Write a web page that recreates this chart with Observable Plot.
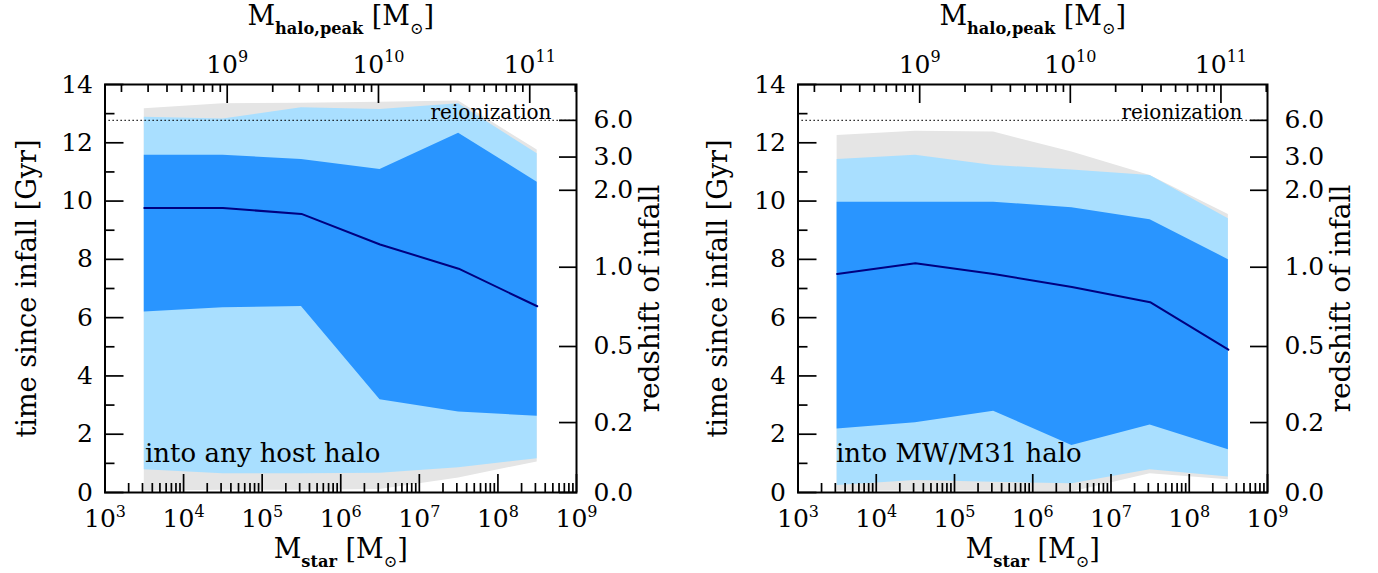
<!DOCTYPE html>
<html><head><meta charset="utf-8">
<script src="https://cdn.jsdelivr.net/npm/d3@7"></script>
<script src="https://cdn.jsdelivr.net/npm/@observablehq/plot@0.6"></script>
<style>
html,body{margin:0;padding:0;background:#fff;}
#wrap{display:flex;width:1378px;height:573px;overflow:hidden;}
#wrap svg{display:block;flex:none;}
</style></head><body><div id="wrap"></div>
<script>
// ---------- data ----------
const mstar = [10**3.5, 10**4.5, 10**5.5, 10**6.5, 10**7.5, 10**8.5];

// left panel: into any host halo (time since infall, Gyr)
const anyGrayLo  = [0.05, 0.08, 0.08, 0.10, 0.50, 1.05];
const anyGrayHi  = [13.17, 13.34, 13.36, 13.39, 13.43, 11.75];
const anyLightLo = [0.78, 0.64, 0.64, 0.66, 0.85, 1.16];
const anyLightHi = [12.88, 12.82, 13.20, 13.14, 13.34, 11.62];
const anyDarkLo  = [6.19, 6.34, 6.38, 3.18, 2.76, 2.62];
const anyDarkHi  = [11.57, 11.57, 11.43, 11.08, 12.33, 10.65];
const anyMedian  = [9.76, 9.76, 9.56, 8.51, 7.68, 6.39];

// right panel: into MW/M31 halo
const mwGrayLo  = [0.05, 0.05, 0.05, 0.02, 0.64, 0.44];
const mwGrayHi  = [12.25, 12.40, 12.37, 11.68, 10.88, 9.54];
const mwLightLo = [0.24, 0.41, 0.35, 0.30, 0.78, 0.53];
const mwLightHi = [11.43, 11.57, 11.22, 11.07, 10.88, 9.39];
const mwDarkLo  = [2.18, 2.39, 2.79, 1.61, 2.32, 1.47];
const mwDarkHi  = [9.96, 9.96, 9.96, 9.77, 9.36, 7.99];
const mwMedian  = [7.50, 7.87, 7.50, 7.05, 6.53, 4.90];

// redshift axis: labels and the lookback times (Gyr) they sit at
const zLabels = ["0.0", "0.2", "0.5", "1.0", "2.0", "3.0", "6.0"];
const zTimes  = [0, 2.40, 5.01, 7.73, 10.37, 11.51, 12.77];
const reionTime = 12.77;

// bottom axis decades and y ticks
const starDecades = [1e3, 1e4, 1e5, 1e6, 1e7, 1e8, 1e9];
const yMajor = [0, 2, 4, 6, 8, 10, 12, 14];
const yMinor = [1, 3, 5, 7, 9, 11, 13];

// top axis: peak halo mass, and its relation to stellar mass (log-linear)
const haloDecades = [1e9, 1e10, 1e11];
const haloRelation = {logStarAt1e9: 4.555, slope: 1.925};
const haloToStar = h => 10 ** (haloRelation.logStarAt1e9 + haloRelation.slope * (Math.log10(h) - 9));
const starToHalo = s => 10 ** (9 + (Math.log10(s) - haloRelation.logStarAt1e9) / haloRelation.slope);

// ---------- helpers ----------
const FONT = "DejaVu Serif";
const PLOT_H = 573, M_TOP = 84, M_BOTTOM = 81;
const FRAME_H = PLOT_H - M_TOP - M_BOTTOM;
const inRange = v => v >= 1e3 * 0.9999 && v <= 1e9 * 1.0001;
const starMinor = [];
for (let e = 3; e < 9; e++) for (let k = 2; k <= 9; k++) starMinor.push(k * 10 ** e);
const haloMinorPos = [];
for (let e = 8; e <= 11; e++) for (let k = 2; k <= 9; k++) {
  const p = haloToStar(k * 10 ** e);
  if (inRange(p)) haloMinorPos.push(p);
}
const haloMajorPos = haloDecades.map(h => haloToStar(h));
const expLabel = v => `10^{${Math.round(Math.log10(v))}}`;

function rich(svg) {
  const ns = "http://www.w3.org/2000/svg";
  svg.querySelectorAll("text").forEach(el => {
    if (el.querySelector("tspan")) return;
    const s = el.textContent;
    if (!/(\^|_\*?)\{/.test(s)) return;
    const fs = parseFloat(getComputedStyle(el).fontSize) || 25;
    const parts = s.split(/(\^\{[^}]*\}|_\*?\{[^}]*\})/).filter(p => p !== "");
    el.textContent = "";
    let shift = 0;
    for (const part of parts) {
      let m, target = 0, size = null, bold = false, content = part;
      if ((m = part.match(/^\^\{(.*)\}$/))) { target = -0.42 * fs; size = 0.64 * fs; content = m[1]; }
      else if ((m = part.match(/^_(\*?)\{(.*)\}$/))) { target = 0.32 * fs; size = 0.6 * fs; bold = !!m[1]; content = m[2]; }
      const t = document.createElementNS(ns, "tspan");
      t.setAttribute("dy", (target - shift).toFixed(2));
      shift = target;
      if (size) t.setAttribute("font-size", size.toFixed(2));
      if (bold) t.setAttribute("font-weight", "bold");
      t.textContent = content;
      el.appendChild(t);
    }
  });
}

function panel(o) {
  const rows = mstar.map((m, i) => ({
    m, gLo: o.grayLo[i], gHi: o.grayHi[i], lLo: o.lightLo[i], lHi: o.lightHi[i],
    dLo: o.darkLo[i], dHi: o.darkHi[i], med: o.median[i]
  }));
  const tickW = 1.7;
  return Plot.plot({
    width: 689, height: PLOT_H,
    marginTop: M_TOP, marginBottom: M_BOTTOM, marginLeft: o.marginLeft, marginRight: o.marginRight,
    x: {type: "log", domain: [1e3, 1e9], axis: null},
    y: {domain: [0, 14], axis: null},
    style: {fontFamily: FONT, fontSize: "25px", color: "#000", background: "#fff"},
    marks: [
      Plot.areaY(rows, {x: "m", y1: "gLo", y2: "gHi", fill: "#e5e5e5"}),
      Plot.areaY(rows, {x: "m", y1: "lLo", y2: "lHi", fill: "#a9dfff"}),
      Plot.areaY(rows, {x: "m", y1: "dLo", y2: "dHi", fill: "#2995ff"}),
      Plot.line(rows, {x: "m", y: "med", stroke: "#000080", strokeWidth: 2}),
      Plot.ruleY([reionTime], {stroke: "#000", strokeWidth: 1.3, strokeDasharray: "1.3,2.7"}),
      Plot.text([reionTime], {y: d => d, text: () => "reionization", frameAnchor: "right", textAnchor: "end",
        lineAnchor: "bottom", dx: -25, dy: -1, fontSize: 20, letterSpacing: "2px"}),
      Plot.text([o.legend], {frameAnchor: "bottom-left", textAnchor: "start", lineAnchor: "middle",
        dx: o.legendDx, dy: -39, fontSize: 26}),
      Plot.frame({stroke: "#000", strokeWidth: 2}),
      // bottom axis
      Plot.axisX({anchor: "bottom", ticks: starDecades, tickSize: -18, fill: "none", strokeWidth: tickW, label: null}),
      Plot.axisX({anchor: "bottom", ticks: starMinor, tickSize: -9, fill: "none", strokeWidth: tickW, label: null}),
      Plot.axisX({anchor: "bottom", ticks: starDecades, tickSize: 0, tickPadding: 17, tickFormat: expLabel, fontSize: 25, label: null}),
      // top axis (halo mass), along the top edge of the frame
      Plot.tickX(haloMajorPos, {x: d => d, stroke: "#000", strokeWidth: tickW, insetBottom: FRAME_H - 19}),
      Plot.tickX(haloMinorPos, {x: d => d, stroke: "#000", strokeWidth: tickW, insetBottom: FRAME_H - 8}),
      Plot.text(haloMajorPos, {x: d => d, text: d => expLabel(starToHalo(d)), frameAnchor: "top",
        textAnchor: "middle", lineAnchor: "bottom", dy: -12, fontSize: 25}),
      // left axis
      Plot.axisY({anchor: "left", ticks: yMajor, tickSize: -19, fill: "none", strokeWidth: tickW, label: null}),
      Plot.axisY({anchor: "left", ticks: yMinor, tickSize: -10, fill: "none", strokeWidth: tickW, label: null}),
      Plot.axisY({anchor: "left", ticks: yMajor, tickSize: 0, tickPadding: 12, fontSize: 25, label: null}),
      // right axis (redshift)
      Plot.axisY({anchor: "right", ticks: zTimes, tickSize: -18, fill: "none", strokeWidth: tickW, label: null}),
      Plot.axisY({anchor: "right", ticks: zTimes, tickSize: 0, tickPadding: 17,
        tickFormat: t => zLabels[zTimes.indexOf(t)], fontSize: 25, label: null}),
      // axis titles
      Plot.text(["M_*{halo,peak} [M_{⊙}]"], {frameAnchor: "top", textAnchor: "middle", lineAnchor: "middle", dy: -68, fontSize: 27}),
      Plot.text(["M_*{star} [M_{⊙}]"], {frameAnchor: "bottom", textAnchor: "middle", lineAnchor: "middle", dy: 57, fontSize: 27}),
      Plot.text(["time since infall [Gyr]"], {frameAnchor: "left", textAnchor: "middle", lineAnchor: "middle",
        rotate: -90, dx: o.yLabelDx, fontSize: 27}),
      Plot.text(["redshift of infall"], {frameAnchor: "right", textAnchor: "middle", lineAnchor: "middle",
        rotate: -90, dx: 74, dy: 10, fontSize: 28})
    ]
  });
}

const wrap = document.getElementById("wrap");
const left = panel({
  grayLo: anyGrayLo, grayHi: anyGrayHi, lightLo: anyLightLo, lightHi: anyLightHi,
  darkLo: anyDarkLo, darkHi: anyDarkHi, median: anyMedian,
  legend: "into any host halo", legendDx: 40, yLabelDx: -78,
  marginLeft: 104.5, marginRight: 113
});
const right = panel({
  grayLo: mwGrayLo, grayHi: mwGrayHi, lightLo: mwLightLo, lightHi: mwLightHi,
  darkLo: mwDarkLo, darkHi: mwDarkHi, median: mwMedian,
  legend: "into MW/M31 halo", legendDx: 38, yLabelDx: -80,
  marginLeft: 108.5, marginRight: 111
});
wrap.appendChild(left);
wrap.appendChild(right);
rich(left);
rich(right);
</script>
</body></html>
